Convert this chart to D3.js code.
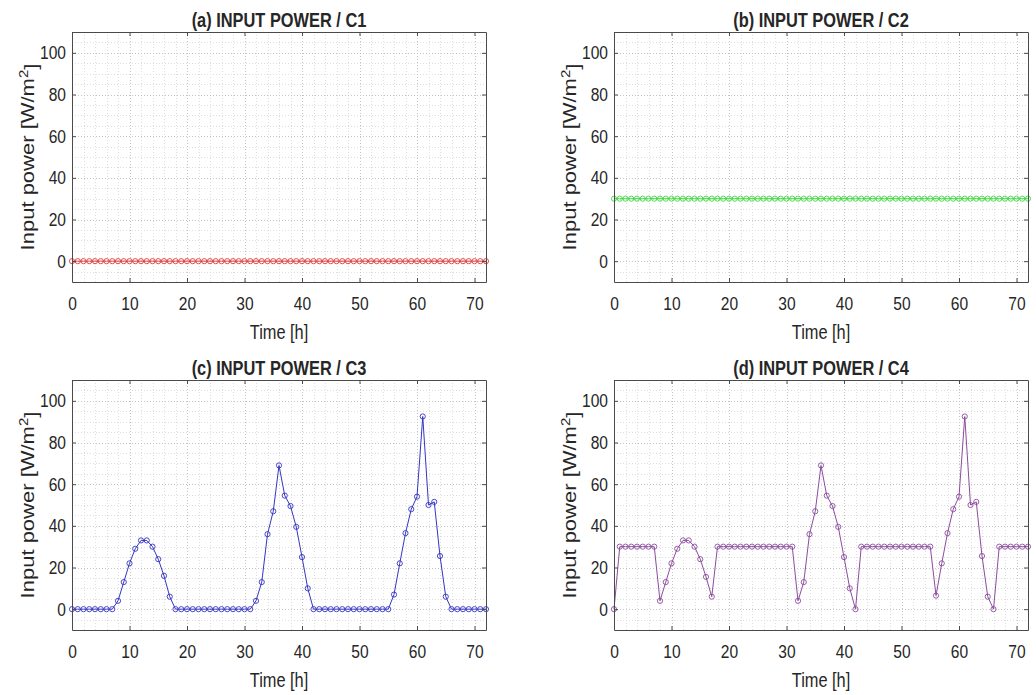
<!DOCTYPE html>
<html>
<head>
<meta charset="utf-8">
<script src="https://cdn.jsdelivr.net/npm/d3@7"></script>
<style>
  body { margin: 0; background: #fff; }
  text { font-family: "Liberation Sans", Arial, Helvetica, sans-serif; fill: #262626; }
</style>
</head>
<body>
<div id="chart"></div>
<script>
// hours on the x axis
var hours = [0,1,2,3,4,5,6,7,8,9,10,11,12,13,14,15,16,17,18,19,20,21,22,23,24,25,26,27,28,29,30,
  31,32,33,34,35,36,37,38,39,40,41,42,43,44,45,46,47,48,49,50,51,52,53,54,55,56,57,58,59,60,
  61,62,63,64,65,66,67,68,69,70,71,72];

// input power per case [W/m2]
var powerC1 = [0,0,0,0,0,0,0,0,0,0,0,0,0,0,0,0,0,0,0,0,0,0,0,0,0,0,0,0,0,0,0,0,0,0,0,0,0,
  0,0,0,0,0,0,0,0,0,0,0,0,0,0,0,0,0,0,0,0,0,0,0,0,0,0,0,0,0,0,0,0,0,0,0,0];

var powerC2 = [30,30,30,30,30,30,30,30,30,30,30,30,30,30,30,30,30,30,30,30,30,30,30,30,30,
  30,30,30,30,30,30,30,30,30,30,30,30,30,30,30,30,30,30,30,30,30,30,30,30,30,30,30,30,30,30,
  30,30,30,30,30,30,30,30,30,30,30,30,30,30,30,30,30,30];

var powerC3 = [0,0,0,0,0,0,0,0,
  4,13,22,29,33,33,30,24,16,6,
  0,0,0,0,0,0,0,0,0,0,0,0,0,0,
  4,13,36,47,69,54.5,49.5,39.5,25,10,
  0,0,0,0,0,0,0,0,0,0,0,0,0,0,
  7,22,36.5,48,54,92.5,50,51.5,25.5,6,
  0,0,0,0,0,0,0];

var powerC4 = [0,
  30,30,30,30,30,30,30,
  4,13,22,29,33,33,30,24,15.5,6,
  30,30,30,30,30,30,30,30,30,30,30,30,30,30,
  4,13,36,47,69,54.5,49.5,39.5,25,10,
  0,
  30,30,30,30,30,30,30,30,30,30,30,30,30,
  6.5,22,36.5,48,54,92.5,50,51.5,25.5,6,
  0,
  30,30,30,30,30,30];

var xTicks = [0,10,20,30,40,50,60,70];
var yTicks = [0,20,40,60,80,100];

var panels = [
  {title: "(a) INPUT POWER / C1", values: powerC1, color: "#e03a3a", left: 72,  top: 32},
  {title: "(b) INPUT POWER / C2", values: powerC2, color: "#3ed83e", left: 614, top: 32},
  {title: "(c) INPUT POWER / C3", values: powerC3, color: "#3535c2", left: 72,  top: 380},
  {title: "(d) INPUT POWER / C4", values: powerC4, color: "#8c4c9e", left: 614, top: 380}
];

var plotW = 414, plotH = 250;
var squeeze = 0.82;   // the original figure is a bit narrower than tall

var svg = d3.select("#chart")
  .append("svg")
    .attr("width", 1036)
    .attr("height", 695);

panels.forEach(function(p) {
  var g = svg.append("g")
    .attr("transform", "translate(" + p.left + "," + p.top + ")");

  var x = d3.scaleLinear().domain([0, 72]).range([0, plotW]);
  var y = d3.scaleLinear().domain([-10, 110]).range([plotH, 0]);

  // minor grid
  var xMinor = d3.range(2, 72, 2).filter(function(v) { return v % 10 != 0; });
  var yMinor = d3.range(-5, 110, 5).filter(function(v) { return v % 20 != 0; });
  g.selectAll("xminor").data(xMinor).enter().append("line")
    .attr("x1", function(d) { return Math.round(x(d)) + 0.5; })
    .attr("x2", function(d) { return Math.round(x(d)) + 0.5; })
    .attr("y1", 0).attr("y2", plotH)
    .attr("stroke", "#dedede").attr("stroke-dasharray", "1,2");
  g.selectAll("yminor").data(yMinor).enter().append("line")
    .attr("y1", function(d) { return Math.round(y(d)) + 0.5; })
    .attr("y2", function(d) { return Math.round(y(d)) + 0.5; })
    .attr("x1", 0).attr("x2", plotW)
    .attr("stroke", "#dedede").attr("stroke-dasharray", "1,2");

  // major grid
  g.selectAll("xmajor").data(xTicks.slice(1)).enter().append("line")
    .attr("x1", function(d) { return Math.round(x(d)) + 0.5; })
    .attr("x2", function(d) { return Math.round(x(d)) + 0.5; })
    .attr("y1", 0).attr("y2", plotH)
    .attr("stroke", "#c4c4c4").attr("stroke-dasharray", "1,2");
  g.selectAll("ymajor").data(yTicks).enter().append("line")
    .attr("y1", function(d) { return Math.round(y(d)) + 0.5; })
    .attr("y2", function(d) { return Math.round(y(d)) + 0.5; })
    .attr("x1", 0).attr("x2", plotW)
    .attr("stroke", "#c4c4c4").attr("stroke-dasharray", "1,2");

  // line + circle markers
  var line = d3.line()
    .x(function(d, i) { return x(hours[i]); })
    .y(function(d) { return y(d); });
  g.append("path")
    .datum(p.values)
    .attr("d", line)
    .attr("fill", "none")
    .attr("stroke", p.color)
    .attr("stroke-width", 1);
  g.selectAll("mycircle").data(p.values).enter().append("circle")
    .attr("cx", function(d, i) { return x(hours[i]); })
    .attr("cy", function(d) { return y(d); })
    .attr("r", 2.6)
    .attr("fill", "none")
    .attr("stroke", p.color)
    .attr("stroke-width", 0.9);

  // axes (box with inward ticks)
  var axB = g.append("g").attr("transform", "translate(0," + plotH + ")")
    .call(d3.axisBottom(x).tickValues(xTicks).tickSizeInner(-4).tickSizeOuter(0).tickPadding(15));
  var axL = g.append("g")
    .call(d3.axisLeft(y).tickValues(yTicks).tickSizeInner(-4).tickSizeOuter(0).tickPadding(6 / squeeze));
  g.append("g")
    .call(d3.axisTop(x).tickValues(xTicks).tickSizeInner(-4).tickSizeOuter(0).tickFormat(""));
  g.append("g").attr("transform", "translate(" + plotW + ",0)")
    .call(d3.axisRight(y).tickValues(yTicks).tickSizeInner(-4).tickSizeOuter(0).tickFormat(""));

  g.selectAll(".domain, .tick line").attr("stroke", "#4a4a4a");
  g.selectAll(".tick text")
    .style("font-size", "19px")
    .attr("fill", "#262626")
    .attr("transform", "scale(" + squeeze + ",1)");

  // title
  g.append("text")
    .attr("transform", "translate(" + plotW / 2 + ",-5.5) scale(" + squeeze + ",1)")
    .attr("text-anchor", "middle")
    .style("font-size", "20px")
    .style("font-weight", "bold")
    .attr("fill", "#111")
    .text(p.title);

  // x label
  g.append("text")
    .attr("transform", "translate(" + plotW / 2 + "," + (plotH + 57) + ") scale(" + squeeze + ",1)")
    .attr("text-anchor", "middle")
    .style("font-size", "20px")
    .text("Time [h]");

  // y label
  var yl = g.append("text")
    .attr("transform", "translate(" + (-38) + "," + plotH / 2 + ") scale(" + squeeze + ",1) rotate(-90)")
    .attr("text-anchor", "middle")
    .style("font-size", "22px");
  yl.append("tspan").text("Input power [W/m");
  yl.append("tspan").attr("dy", "-0.45em").style("font-size", "15px").text("2");
  yl.append("tspan").attr("dy", "0.45em").text("]");
});
</script>
</body>
</html>
